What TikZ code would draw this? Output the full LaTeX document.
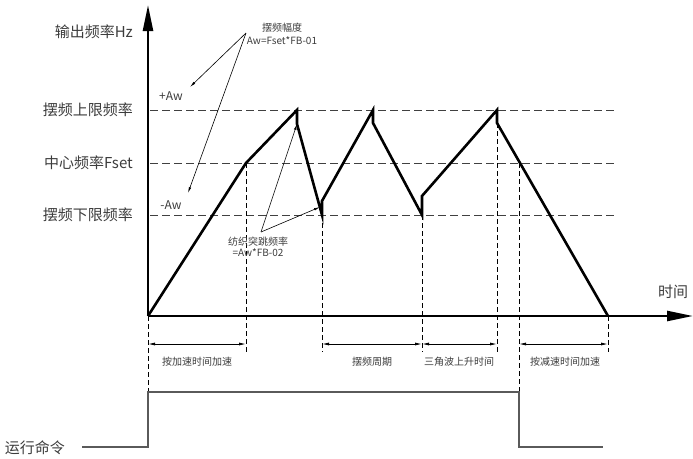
\documentclass[tikz,border=0pt]{standalone}
\usepackage{fontspec}
\usepackage{tikz}
\usetikzlibrary{arrows.meta}
\newfontfamily\cjk{Noto Sans CJK SC}
\definecolor{txtgray}{RGB}{60,60,60}
\definecolor{cmdgray}{RGB}{90,90,90}

\tikzset{
  wave/.style={line width=2.6pt, line join=miter},
  axis/.style={line width=2.4pt, -{Triangle[length=26pt,width=10pt]}},
  level/.style={dash pattern=on 8pt off 4pt, line width=0.9pt, draw=black!75},
  guide/.style={dash pattern=on 5pt off 3pt, line width=0.8pt},
  span/.style={{Latex[length=7pt,width=3pt]}-{Latex[length=7pt,width=3pt]}, line width=0.8pt},
  note/.style={-{Latex[length=6pt,width=2.5pt]}, line width=0.6pt},
  cmdline/.style={line width=1.3pt, draw=cmdgray},
  biglabel/.style={font=\cjk\fontsize{15}{17}\selectfont, text=txtgray, inner sep=0pt},
  midlabel/.style={font=\cjk\fontsize{12}{14}\selectfont, text=txtgray, inner sep=0pt},
  smalllabel/.style={font=\cjk\fontsize{10}{12}\selectfont, text=txtgray, inner sep=0pt},
}

\begin{document}
\begin{tikzpicture}[x=1pt, y=-1pt]
        \useasboundingbox (0,0) rectangle (693,458);

        % axes
        \coordinate (O) at (148,316);
        \coordinate (yTop) at (148,5);
        \coordinate (xEnd) at (693,316);

        % levels
        \coordinate (hiL) at (150,110);
        \coordinate (hiR) at (615,110);
        \coordinate (midL) at (150,163);
        \coordinate (midR) at (615,163);
        \coordinate (loL) at (150,215);
        \coordinate (loR) at (615,215);

        % waveform corners
        \coordinate (w1) at (246,163);
        \coordinate (p1) at (297,110);
        \coordinate (p1b) at (297,124);
        \coordinate (t1) at (322,215);
        \coordinate (t1b) at (322,201);
        \coordinate (p2) at (373,110);
        \coordinate (p2b) at (373,123);
        \coordinate (t2) at (422,215);
        \coordinate (t2b) at (422,196);
        \coordinate (p3) at (497,110);
        \coordinate (p3b) at (497,123);
        \coordinate (c3) at (519,163);
        \coordinate (e) at (608,316);

        \draw[level] (hiL) -- (hiR);
        \draw[level] (midL) -- (midR);
        \draw[level] (loL) -- (loR);

        % guides down to the spans
        \coordinate (g0) at (148,392);
        \coordinate (g1) at (246,352);
        \coordinate (g2) at (322,352);
        \coordinate (g3) at (422,352);
        \coordinate (g4) at (497,352);
        \coordinate (g5) at (519,392);
        \coordinate (g6) at (608,352);
        \draw[guide] (O) -- (g0);
        \draw[guide] (w1) -- (g1);
        \draw[guide] (t1) -- (g2);
        \draw[guide] (t2) -- (g3);
        \draw[guide] (p3b) -- (g4);
        \draw[guide] (c3) -- (g5);
        \draw[guide] (e) -- (g6);

        \draw[wave] (O) -- (w1) -- (p1) -- (p1b) -- (t1) -- (t1b) -- (p2) -- (p2b)
            -- (t2) -- (t2b) -- (p3) -- (p3b) -- (e);

        \draw[axis] (O) -- (yTop);
        \draw[axis] (O) -- (xEnd);

        % labels on the axes
        \node[biglabel, anchor=east] (lout) at (133,32) {输出频率Hz};
        \node[biglabel, anchor=east] (lhi) at (133,110) {摆频上限频率};
        \node[biglabel, anchor=east] (lmid) at (133,163) {中心频率Fset};
        \node[biglabel, anchor=east] (llo) at (133,215) {摆频下限频率};
        \node[biglabel] (ltime) at (673,292) {时间};
        \node[midlabel] (lplus) at (171,96) {+Aw};
        \node[midlabel] (lminus) at (171,205) {-Aw};

        % amplitude note
        \node[smalllabel] (amp1) at (282,28) {摆频幅度};
        \node[smalllabel] (amp2) at (282,41) {Aw=Fset*FB-01};
        \coordinate (ampA) at (246,33);
        \coordinate (ampP) at (190,87);
        \coordinate (ampM) at (188,193);
        \draw[note] (ampA) -- (ampP);
        \draw[note] (ampA) -- (ampM);

        % jump note
        \node[smalllabel] (jmp1) at (258,242) {纺织突跳频率};
        \node[smalllabel] (jmp2) at (258,253) {=Aw*FB-02};
        \coordinate (jmpA) at (261,232);
        \coordinate (jmpT) at (320,207);
        \draw[note] (jmpA) -- (p1b);
        \draw[note] (jmpA) -- (jmpT);

        % spans
        \coordinate (s0) at (148,344);
        \coordinate (s1) at (246,344);
        \coordinate (s2) at (322,344);
        \coordinate (s3) at (422,344);
        \coordinate (s4) at (497,344);
        \coordinate (s5) at (519,344);
        \coordinate (s6) at (608,344);
        \draw[span] (s0) -- (s1);
        \draw[span] (s2) -- (s3);
        \draw[span] (s3) -- (s4);
        \draw[span] (s5) -- (s6);
        \node[smalllabel] (acc) at (197,362) {按加速时间加速};
        \node[smalllabel] (per) at (372,362) {摆频周期};
        \node[smalllabel] (rise) at (459,362) {三角波上升时间};
        \node[smalllabel] (dec) at (565,362) {按减速时间加速};

        % run command
        \node[biglabel] (run) at (35,448) {运行命令};
        \coordinate (r0) at (82,447);
        \coordinate (r1) at (148,447);
        \coordinate (r4) at (519,447);
        \coordinate (r5) at (603,447);
        \draw[cmdline] (r0) -- (r1) -- (g0) -- (g5) -- (r4) -- (r5);
\end{tikzpicture}
\end{document}
